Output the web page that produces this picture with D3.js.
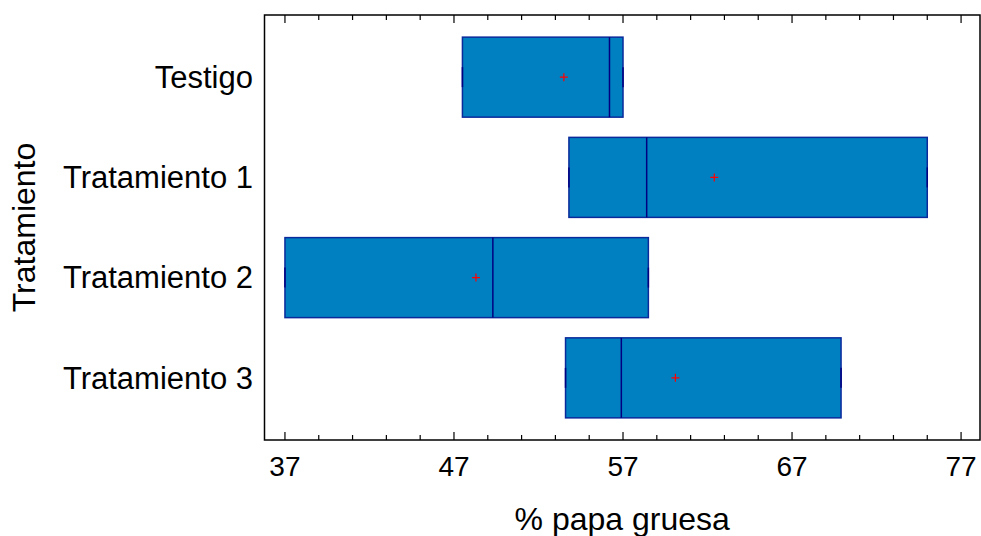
<!DOCTYPE html>
<html>
<head>
<meta charset="utf-8">
<script src="https://cdn.jsdelivr.net/npm/d3@7"></script>
<style>
  body { margin: 0; background: #fff; }
  svg text { font-family: Arial, "Liberation Sans", sans-serif; fill: #000; }
</style>
</head>
<body>
<div id="chart"></div>
<script>
// Box-and-whisker plot: % papa gruesa by tratamiento

const categories = ["Testigo", "Tratamiento 1", "Tratamiento 2", "Tratamiento 3"];
const mins    = [47.5, 53.8, 37.0, 53.6];
const q1      = [47.5, 53.8, 37.0, 53.6];
const medians = [56.2, 58.4, 49.3, 56.9];
const means   = [53.5, 62.4, 48.3, 60.1];
const q3      = [57.0, 75.0, 58.5, 69.9];
const maxs    = [57.0, 75.0, 58.5, 69.9];
const majorTicks = [37, 47, 57, 67, 77];
const minorTicks = d3.range(37, 78, 2);

const width = 981, height = 536;
const frame = { left: 264.5, right: 980, top: 15, bottom: 440 };

const svg = d3.select("#chart").append("svg")
    .attr("width", width)
    .attr("height", height);

const x = d3.scaleLinear()
    .domain([35.79, 78.12])
    .range([frame.left, frame.right]);

const y = d3.scalePoint()
    .domain(categories)
    .range([frame.top, frame.bottom])
    .padding(0.62);

const boxH = 80;
const rows = categories.map((c, i) => ({
    cat: c, min: mins[i], q1: q1[i], med: medians[i], mean: means[i], q3: q3[i], max: maxs[i]
}));

// boxes
const g = svg.append("g");
rows.forEach(d => {
    const cy = y(d.cat);
    // whiskers
    g.append("line")
        .attr("x1", x(d.min)).attr("x2", x(d.q1))
        .attr("y1", cy).attr("y2", cy)
        .attr("stroke", "#000080").attr("stroke-width", 1);
    g.append("line")
        .attr("x1", x(d.q3)).attr("x2", x(d.max))
        .attr("y1", cy).attr("y2", cy)
        .attr("stroke", "#000080").attr("stroke-width", 1);

    g.append("rect")
        .attr("x", x(d.q1))
        .attr("y", cy - boxH / 2)
        .attr("width", x(d.q3) - x(d.q1))
        .attr("height", boxH)
        .attr("fill", "#0080c0")
        .attr("stroke", "#0a2a9c")
        .attr("stroke-width", 1.5);

    // whisker caps
    [d.min, d.max].forEach(v => {
        g.append("line")
            .attr("x1", x(v)).attr("x2", x(v))
            .attr("y1", cy - 10).attr("y2", cy + 10)
            .attr("stroke", "#000080").attr("stroke-width", 1.5);
    });

    // median
    g.append("line")
        .attr("x1", x(d.med)).attr("x2", x(d.med))
        .attr("y1", cy - boxH / 2).attr("y2", cy + boxH / 2)
        .attr("stroke", "#000080").attr("stroke-width", 1.5);

    // mean marker
    const mx = x(d.mean);
    g.append("path")
        .attr("d", `M${mx - 4},${cy}H${mx + 4}M${mx},${cy - 4}V${cy + 4}`)
        .attr("stroke", "#ff0000").attr("stroke-width", 1.2);
});

// frame
svg.append("rect")
    .attr("x", frame.left).attr("y", frame.top)
    .attr("width", frame.right - frame.left)
    .attr("height", frame.bottom - frame.top)
    .attr("fill", "none")
    .attr("stroke", "#000")
    .attr("stroke-width", 1.5);

// ticks, bottom pointing up and top pointing down
const tickLen = v => majorTicks.includes(v) ? 8 : 5;
svg.append("g").selectAll("line.tb")
    .data(minorTicks)
    .join("line")
    .attr("x1", d => x(d)).attr("x2", d => x(d))
    .attr("y1", frame.bottom).attr("y2", d => frame.bottom - tickLen(d))
    .attr("stroke", "#000").attr("stroke-width", 1.2);
svg.append("g").selectAll("line.tt")
    .data(minorTicks)
    .join("line")
    .attr("x1", d => x(d)).attr("x2", d => x(d))
    .attr("y1", frame.top).attr("y2", d => frame.top + tickLen(d))
    .attr("stroke", "#000").attr("stroke-width", 1.2);

// x tick labels
svg.append("g").selectAll("text")
    .data(majorTicks)
    .join("text")
    .attr("x", d => x(d))
    .attr("y", 476)
    .attr("text-anchor", "middle")
    .attr("font-size", "28px")
    .text(d => d);

// y category labels
svg.append("g").selectAll("text")
    .data(categories)
    .join("text")
    .attr("x", 253)
    .attr("y", d => y(d))
    .attr("dy", "0.35em")
    .attr("text-anchor", "end")
    .attr("font-size", "31px")
    .text(d => d);

// axis titles
svg.append("text")
    .attr("x", (frame.left + frame.right) / 2)
    .attr("y", 530)
    .attr("text-anchor", "middle")
    .attr("font-size", "32px")
    .text("% papa gruesa");

svg.append("text")
    .attr("transform", `translate(35,${(frame.top + frame.bottom) / 2}) rotate(-90)`)
    .attr("text-anchor", "middle")
    .attr("font-size", "32px")
    .text("Tratamiento");
</script>
</body>
</html>
